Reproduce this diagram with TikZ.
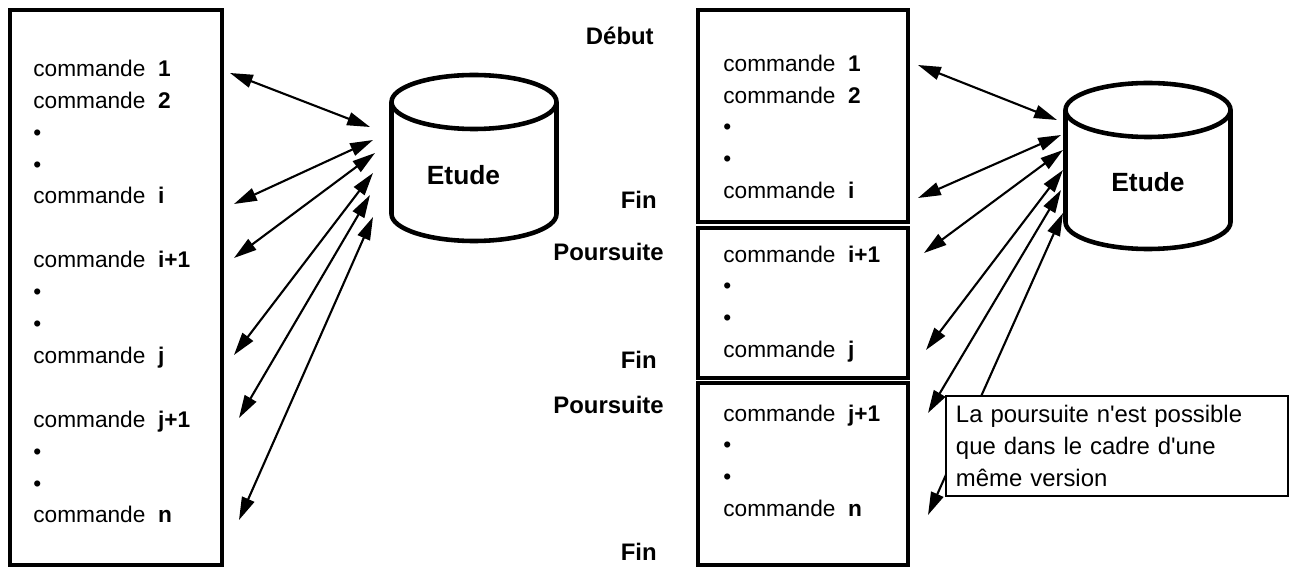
\documentclass[tikz,border=0pt]{standalone}
\usepackage{fontspec}
\setmainfont{Liberation Sans}
\usepackage{tikz}
\usetikzlibrary{calc}
\usetikzlibrary{positioning}
\usetikzlibrary{arrows.meta}
\newcommand{\txt}{\fontsize{13.6}{18.2}\selectfont}
\newcommand{\cmdtxt}{\fontsize{12.9}{18.2}\selectfont}
\tikzstyle{cmd}=[
  anchor=west,
  inner sep=0pt,
  text height=0.72em,
  text depth=0pt,
  font=\cmdtxt
]
\tikzstyle{lbl}=[
  anchor=east,
  inner sep=0pt,
  text height=0.72em,
  text depth=0pt,
  font=\txt\bfseries
]
\tikzstyle{tanklbl}=[
  inner sep=0pt,
  text height=0.72em,
  text depth=0pt,
  font=\fontsize{15}{18}\selectfont\bfseries
]
\tikzstyle{frame}=[
  draw,
  line width=2.2pt
]
\tikzstyle{tank}=[
  line width=2.6pt
]
\tikzstyle{link}=[
  {Triangle[length=13pt,width=7.5pt]}-{Triangle[length=13pt,width=7.5pt]},
  line width=1.2pt
]
\tikzstyle{note}=[
  draw,
  fill=white,
  line width=1.1pt,
  align=left,
  inner xsep=5.7pt,
  text width=6.44cm,
  minimum height=2cm,
  font=\txt
]
\newcommand{\drawcommands}[4]{{
  \node[cmd] (#1one)  at ({#2}, {#3})        {commande\ \ \textbf{1}};
  \node[cmd] (#1two)  at ({#2}, {#3+#4})     {commande\ \ \textbf{2}};
  \node[cmd] (#1dota) at ({#2}, {#3+2*#4})   {•};
  \node[cmd] (#1dotb) at ({#2}, {#3+3*#4})   {•};
  \node[cmd] (#1i)    at ({#2}, {#3+4*#4})   {commande\ \ \textbf{i}};
  \node[cmd] (#1ii)   at ({#2}, {#3+6*#4})   {commande\ \ \textbf{i+1}};
  \node[cmd] (#1dotc) at ({#2}, {#3+7*#4})   {•};
  \node[cmd] (#1dotd) at ({#2}, {#3+8*#4})   {•};
  \node[cmd] (#1j)    at ({#2}, {#3+9*#4})   {commande\ \ \textbf{j}};
  \node[cmd] (#1jj)   at ({#2}, {#3+11*#4})  {commande\ \ \textbf{j+1}};
  \node[cmd] (#1dote) at ({#2}, {#3+12*#4})  {•};
  \node[cmd] (#1dotf) at ({#2}, {#3+13*#4})  {•};
  \node[cmd] (#1n)    at ({#2}, {#3+14*#4})  {commande\ \ \textbf{n}};
}}
\newcommand{\drawtank}[2]{{
  \draw[tank] ({#1-82.5}, {#2}) -- ({#1-82.5}, {#2+112})
    arc[start angle=180, end angle=0, x radius=82.5, y radius=27]
    -- ({#1+82.5}, {#2});
  \draw[tank] (#1, #2) ellipse [x radius=82.5, y radius=27];
}}
\begin{document}
\begin{tikzpicture}[x=0.02cm, y=-0.02cm]
  \useasboundingbox (0,0) rectangle (1290,567);

  \draw[frame] (10,  10)  rectangle (222, 565);
  \draw[frame] (698, 10)  rectangle (908, 222);
  \draw[frame] (698, 228) rectangle (908, 378);
  \draw[frame] (698, 383) rectangle (908, 565);

  \drawcommands{l}{33}{70}{31.9}
  \drawcommands{r}{723}{65}{31.8}

  \node[lbl] (debut)  at (654, 38)  {Début};
  \node[lbl] (fina)   at (657, 202) {Fin};
  \node[lbl] (suitea) at (664, 254) {Poursuite};
  \node[lbl] (finb)   at (657, 362) {Fin};
  \node[lbl] (suiteb) at (664, 407) {Poursuite};
  \node[lbl] (finc)   at (657, 554) {Fin};

  \drawtank{474}{102}
  \drawtank{1148}{110}
  \node[tanklbl] (etudea) at (463.5, 178) {Etude};
  \node[tanklbl] (etudeb) at (1148,  185) {Etude};

  \coordinate (la1) at (230, 73);   \coordinate (lt1) at (370, 127);
  \coordinate (la2) at (234, 204);  \coordinate (lt2) at (373, 140);
  \coordinate (la3) at (234, 258);  \coordinate (lt3) at (375, 153);
  \coordinate (la4) at (234, 355);  \coordinate (lt4) at (373, 173);
  \coordinate (la5) at (239, 418);  \coordinate (lt5) at (370, 195);
  \coordinate (la6) at (239, 520);  \coordinate (lt6) at (373, 217);

  \coordinate (ra1) at (918, 65);   \coordinate (rt1) at (1057, 120);
  \coordinate (ra2) at (918, 198);  \coordinate (rt2) at (1061, 135);
  \coordinate (ra3) at (924, 253);  \coordinate (rt3) at (1063, 150);
  \coordinate (ra4) at (926, 350);  \coordinate (rt4) at (1063, 170);
  \coordinate (ra5) at (928, 413);  \coordinate (rt5) at (1061, 190);
  \coordinate (ra6) at (928, 515);  \coordinate (rt6) at (1063, 213);

  \foreach \k in {1,...,6} {
    \draw[link] (la\k) -- (lt\k);
    \draw[link] (ra\k) -- (rt\k);
  }

  \node[note, anchor=north west] (remark) at (945, 395)
    {La poursuite n\textquotesingle est possible\\que dans le cadre d\textquotesingle une\\même version};
\end{tikzpicture}
\end{document}
